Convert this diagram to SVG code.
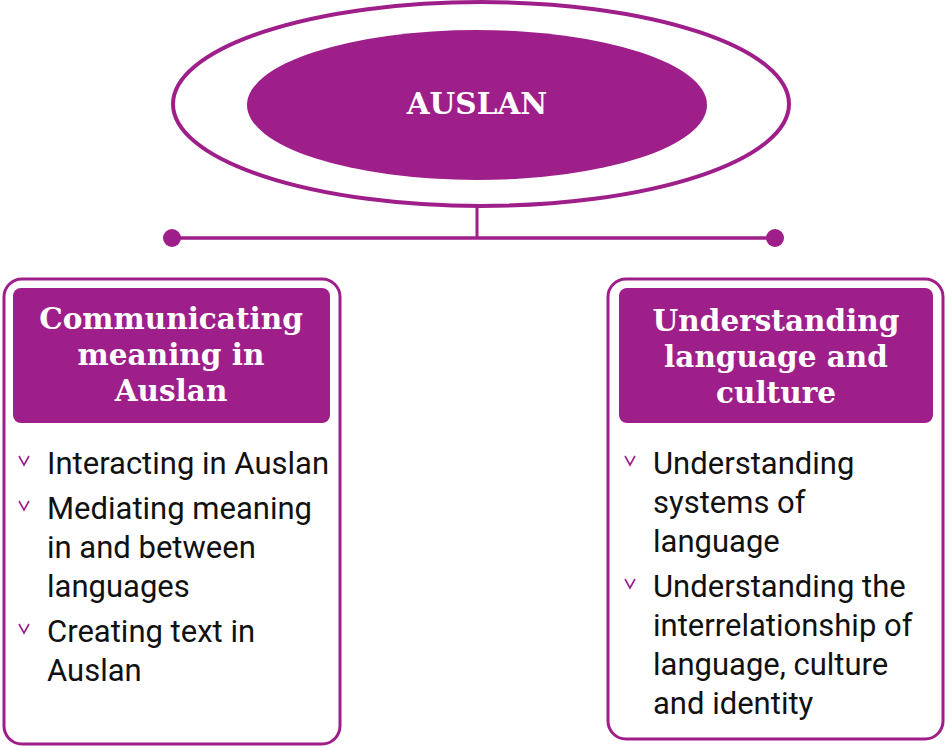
<svg xmlns="http://www.w3.org/2000/svg" width="947" height="748" viewBox="0 0 947 748">
<style>
.pf{fill:#9e1f8a}
.ps{fill:none;stroke:#9e1f8a}
.hd{font-family:"DejaVu Serif","Liberation Serif",serif;font-weight:bold;fill:#fff;text-anchor:middle}
.bt{font-family:Roboto,"Liberation Sans",sans-serif;font-size:31px;fill:#111}
.chev{fill:none;stroke:#9e1f8a;stroke-width:1.6}
</style>
<rect width="947" height="748" fill="#fff"/>
<g id="connectors">
<line class="ps" x1="477" y1="206" x2="477" y2="238" stroke-width="3"/>
<line class="ps" x1="172" y1="238" x2="775" y2="238" stroke-width="3.5"/>
<circle class="pf" cx="172" cy="238" r="9"/>
<circle class="pf" cx="775" cy="238" r="9"/>
</g>
<g id="auslan">
<ellipse class="ps" cx="481" cy="104" rx="308" ry="102" stroke-width="4"/>
<ellipse class="pf" cx="477" cy="105" rx="230" ry="75"/>
<text class="hd" x="477" y="114" font-size="29.5">AUSLAN</text>
</g>
<g id="communicating">
<rect class="ps" x="4" y="279" width="336" height="465" rx="18" stroke-width="3"/>
<rect class="pf" x="13" y="288" width="317" height="135" rx="8"/>
<text class="hd" font-size="29.5"><tspan x="171" y="329">Communicating</tspan><tspan x="171" y="365">meaning in</tspan><tspan x="171" y="401">Auslan</tspan></text>
<polyline class="chev" points="19,456 24,465 29,456"/>
<polyline class="chev" points="19,501 24,510 29,501"/>
<polyline class="chev" points="19,624 24,633 29,624"/>
<text class="bt"><tspan x="47" y="474">Interacting in Auslan</tspan><tspan x="47" y="519">Mediating meaning</tspan><tspan x="47" y="558">in and between</tspan><tspan x="47" y="597">languages</tspan><tspan x="47" y="642">Creating text in</tspan><tspan x="47" y="681">Auslan</tspan></text>
</g>
<g id="understanding">
<rect class="ps" x="608" y="279" width="335" height="460" rx="18" stroke-width="3"/>
<rect class="pf" x="619" y="288" width="314" height="135" rx="8"/>
<text class="hd" font-size="29.5"><tspan x="776" y="331">Understanding</tspan><tspan x="776" y="367">language and</tspan><tspan x="776" y="403">culture</tspan></text>
<polyline class="chev" points="625,456 630,465 635,456"/>
<polyline class="chev" points="625,579 630,588 635,579"/>
<text class="bt"><tspan x="653" y="474">Understanding</tspan><tspan x="653" y="513">systems of</tspan><tspan x="653" y="552">language</tspan><tspan x="653" y="597">Understanding the</tspan><tspan x="653" y="636">interrelationship of</tspan><tspan x="653" y="675">language, culture</tspan><tspan x="653" y="714">and identity</tspan></text>
</g>
</svg>
